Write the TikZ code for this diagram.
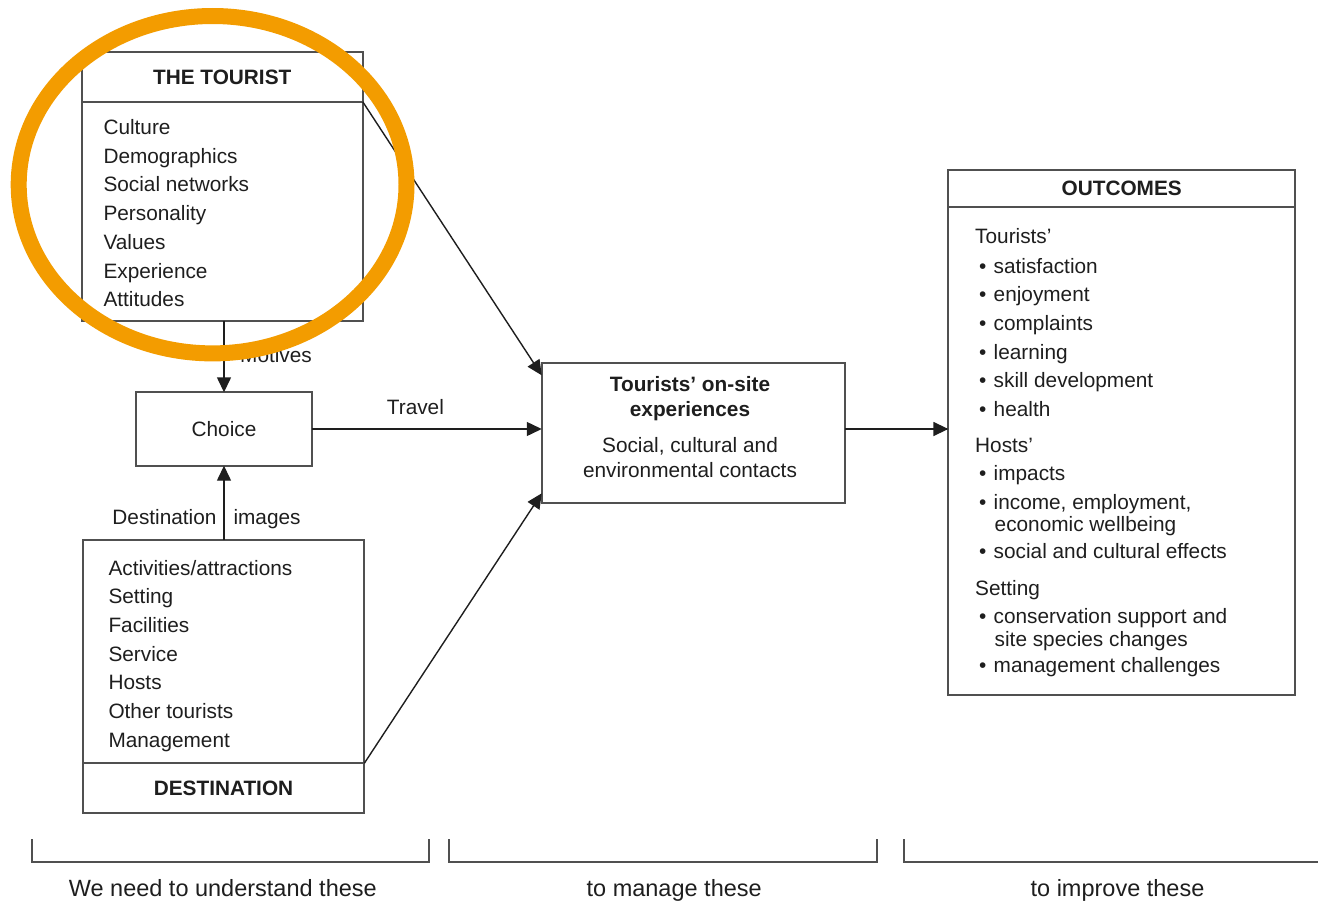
\documentclass[tikz,border=0pt]{standalone}
\usepackage{fontspec}
\setmainfont{Liberation Sans}
\usetikzlibrary{arrows.meta}

\definecolor{ringorange}{HTML}{F39C00}
\definecolor{linegray}{HTML}{505050}
\definecolor{inkdark}{HTML}{1E1E1E}
\newcommand{\outbullet}{\makebox[14.5pt][l]{\textbullet}}

\begin{document}
\begin{tikzpicture}[
    x=1pt, y=-1pt,
    >={Triangle[length=15pt, width=14pt]},
    box/.style={
        draw=linegray,
        line width=1.8pt,
        rectangle,
        inner sep=0pt,
        outer sep=0pt,
        text=inkdark,
        font=\fontsize{20.8pt}{25pt}\selectfont
    },
    head/.style={box, font=\fontsize{20.8pt}{25pt}\selectfont\bfseries},
    item/.style={
        anchor=base west,
        inner sep=0pt,
        text=inkdark,
        font=\fontsize{20.8pt}{25pt}\selectfont
    },
    note/.style={item, font=\fontsize{23.5pt}{28pt}\selectfont, anchor=base},
    link/.style={->, draw=inkdark, line width=1.4pt},
    bracket/.style={draw=linegray, line width=1.8pt}
]
\useasboundingbox (0,0) rectangle (1318,902);

% boxes
\node[head, minimum width=281pt, minimum height=49.4pt] (touristhead) at (222.2,77) {\raisebox{-2.5pt}{THE TOURIST}};
\node[box, minimum width=281pt, minimum height=219pt] (touristbody) at (222.2,211.2) {};
\node[box, minimum width=176.6pt, minimum height=73.4pt] (choice) at (224,429) {Choice};
\node[box, minimum width=303.3pt, minimum height=140pt] (exper) at (693.4,433.3) {};
\node[box, minimum width=281.6pt, minimum height=223.3pt] (destbody) at (223.5,651.65) {};
\node[head, minimum width=281.6pt, minimum height=49.4pt] (desthead) at (223.5,788) {\raisebox{-1.5pt}{DESTINATION}};
\node[head, minimum width=346.7pt, minimum height=36.7pt] (outhead) at (1121.7,188.35) {OUTCOMES};
\node[box, minimum width=346.7pt, minimum height=488.3pt] (outbody) at (1121.7,450.85) {};

% box contents
\foreach \txt [count=\i from 0] in {Culture, Demographics, Social networks, Personality, Values, Experience, Attitudes}
    \node[item] (tour\i) at (103.3,134.5+28.7*\i) {\txt};

\foreach \txt [count=\i from 0] in {{Activities/attractions}, Setting, Facilities, Service, Hosts, Other tourists, Management}
    \node[item] (dest\i) at (108.3,575+28.7*\i) {\txt};

\node[item, anchor=base, font=\fontsize{20.8pt}{25pt}\selectfont\bfseries] (exptitle1) at (690,391.7) {Tourists' on-site};
\node[item, anchor=base, font=\fontsize{20.8pt}{25pt}\selectfont\bfseries] (exptitle2) at (690,416.7) {experiences};
\node[item, anchor=base] (expline1) at (690,452.3) {Social, cultural and};
\node[item, anchor=base] (expline2) at (690,477.7) {environmental contacts};

\foreach \yy/\xx/\txt [count=\i] in {
    243.5/975/{Tourists'},
    273/979/{\outbullet satisfaction},
    301.7/979/{\outbullet enjoyment},
    330.4/979/{\outbullet complaints},
    359.1/979/{\outbullet learning},
    387.8/979/{\outbullet skill development},
    416.5/979/{\outbullet health},
    452/975/{Hosts'},
    480.5/979/{\outbullet impacts},
    509.5/979/{\outbullet income, employment,},
    531.5/994.5/{economic wellbeing},
    558.5/979/{\outbullet social and cultural effects},
    595/975/{Setting},
    623.5/979/{\outbullet conservation support and},
    646/994.5/{site species changes},
    672.5/979/{\outbullet management challenges}}
    \node[item] (out\i) at (\xx,\yy) {\txt};

% connectors
\draw[link] (choice.north |- touristbody.south) -- (choice.north);
\node[item] (motives) at (240,362.7) {Motives};
\draw[link] (choice.south |- destbody.north) -- (choice.south);
\node[item, anchor=base east] (destimg1) at (216.7,524) {Destination};
\node[item] (destimg2) at (233.3,524) {images};
\draw[link] (choice.east) -- (choice.east -| exper.west);
\node[item] (travel) at (386.7,414.3) {Travel};
\draw[link] (touristhead.south east) -- ([yshift=-12pt]exper.north west);
\draw[link] (desthead.north east) -- ([yshift=10pt]exper.south west);
\draw[link] (exper.east |- choice.east) -- (outbody.west |- choice.east);

% brackets
\draw[bracket] (31.7,839) -- (31.7,862.3) -- (429,862.3) -- (429,839);
\draw[bracket] (449.3,839) -- (449.3,862.3) -- (877.3,862.3) -- (877.3,839);
\draw[bracket] (904.3,839) -- (904.3,862.3) -- (1318,862.3);
\node[note] (understand) at (222.8,896) {We need to understand these};
\node[note] (manage) at (674.2,896) {to manage these};
\node[note] (improve) at (1117.5,896) {to improve these};

% highlight
\draw[ringorange, line width=16pt] (212.6,184.7) ellipse [x radius=193.9pt, y radius=168.7pt];
\end{tikzpicture}
\end{document}
